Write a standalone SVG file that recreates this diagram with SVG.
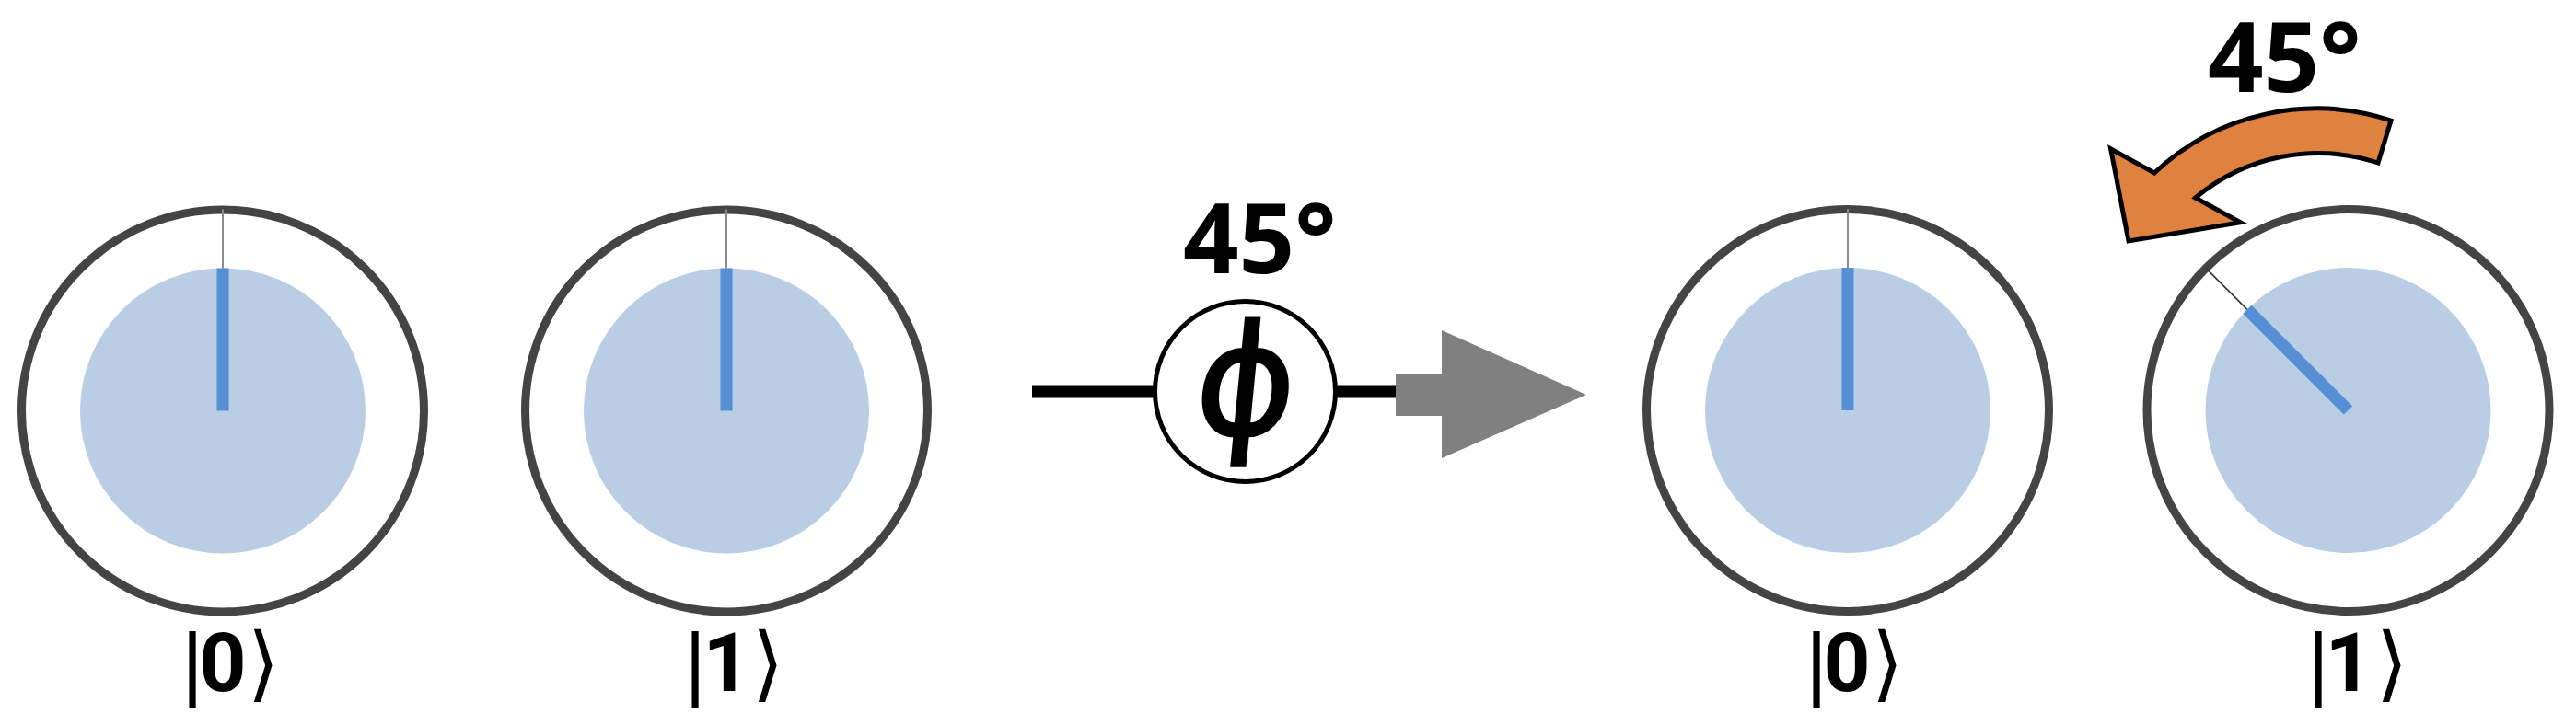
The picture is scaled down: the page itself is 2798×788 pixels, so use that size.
<svg xmlns="http://www.w3.org/2000/svg" width="2798" height="788" viewBox="0 0 2798 788">
<style>
.ring{fill:none;stroke:#444;stroke-width:9}
.disk{fill:#B9CDE5;stroke:none}
.tick{stroke:#8a8a8a;stroke-width:2}
.vec{stroke:#578FD5;stroke-width:13;stroke-linecap:butt}
.bar{font-family:"Liberation Sans",Arimo,Arial,sans-serif;font-size:89px;fill:#000;text-anchor:middle}
.dig{font-family:Roboto,"Liberation Sans",Arial,sans-serif;font-weight:700;font-size:89px;fill:#000;text-anchor:middle}
.ket{font-family:"DejaVu Sans",sans-serif;font-size:89px;fill:#000;text-anchor:middle}
.deg{font-family:"Open Sans","Noto Sans",sans-serif;font-weight:700;font-size:106px;fill:#000}
</style>
<rect width="2798" height="788" fill="#fff"/>

<g id="connectors">
  <line x1="1121" y1="425.5" x2="1520" y2="425.5" stroke="#000" stroke-width="14"/>
  <polygon points="1516,406 1566,406 1566,359 1723,429 1566,498 1566,452 1516,452" fill="#808080"/>
</g>

<g id="qubit-0-before">
  <circle class="ring" cx="242" cy="446.5" r="218.5"/>
  <circle class="disk" cx="242" cy="446.5" r="155"/>
  <line class="tick" x1="242" y1="227.5" x2="242" y2="291.5"/>
  <line class="vec" x1="242" y1="291.5" x2="242" y2="446.5"/>
  <text y="751"><tspan class="bar" x="209">|</tspan><tspan class="dig" x="242">0</tspan><tspan class="ket" x="286">⟩</tspan></text>
</g>

<g id="qubit-1-before">
  <circle class="ring" cx="789" cy="446.5" r="218.5"/>
  <circle class="disk" cx="789" cy="446.5" r="155"/>
  <line class="tick" x1="789" y1="227.5" x2="789" y2="291.5"/>
  <line class="vec" x1="789" y1="291.5" x2="789" y2="446.5"/>
  <text y="751"><tspan class="bar" x="755">|</tspan><tspan class="dig" x="789">1</tspan><tspan class="ket" x="834">⟩</tspan></text>
</g>

<g id="phase-gate">
  <circle cx="1352.5" cy="425.5" r="98" fill="#fff" stroke="#000" stroke-width="5"/>
  <text transform="translate(1348.5,472) skewX(-5.6)" font-family="DejaVu Sans,sans-serif" font-size="166" text-anchor="middle" fill="#000" stroke="#000" stroke-width="2.5">ϕ</text>
  <text class="deg" x="1285" y="297">45°</text>
</g>

<g id="qubit-0-after">
  <circle class="ring" cx="2007" cy="446" r="218.5"/>
  <circle class="disk" cx="2007" cy="446" r="155"/>
  <line class="tick" x1="2007" y1="227" x2="2007" y2="291"/>
  <line class="vec" x1="2007" y1="291" x2="2007" y2="446"/>
  <text y="751"><tspan class="bar" x="1973">|</tspan><tspan class="dig" x="2006">0</tspan><tspan class="ket" x="2050">⟩</tspan></text>
</g>

<g id="qubit-1-after">
  <circle class="ring" cx="2550.5" cy="446" r="218.5"/>
  <circle class="disk" cx="2550.5" cy="446" r="155"/>
  <line x1="2395.6" y1="291.1" x2="2440.9" y2="336.4" stroke="#333" stroke-width="1.6"/>
  <line class="vec" x1="2440.9" y1="336.4" x2="2550.5" y2="446"/>
  <text y="751"><tspan class="bar" x="2518">|</tspan><tspan class="dig" x="2551">1</tspan><tspan class="ket" x="2598">⟩</tspan></text>
</g>

<g id="rotation-arrow">
  <path d="M2597,131 A257,257 0 0 0 2340,188 L2292.6,161.7 L2312,262 L2433.5,241.7 L2384.6,215 A208,208 0 0 1 2583,177 Z" fill="#E0823F" stroke="#000" stroke-width="5" stroke-linejoin="miter"/>
  <text class="deg" x="2398" y="100">45°</text>
</g>
</svg>
